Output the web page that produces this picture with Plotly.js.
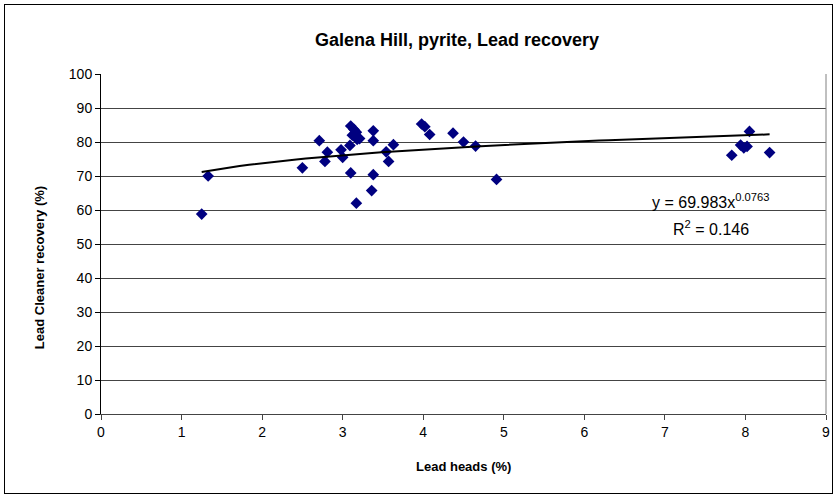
<!DOCTYPE html>
<html>
<head>
<meta charset="utf-8">
<script src="https://cdn.plot.ly/plotly-3.0.1.min.js"></script>
<style>
  html, body { margin: 0; padding: 0; background: #fff; }
  #wrap { position: relative; width: 839px; height: 500px; }
  #chart { width: 839px; height: 500px; }
  #frame { position: absolute; left: 4px; top: 4px; width: 829px; height: 490px; border: 1px solid #000; pointer-events: none; box-sizing: border-box; }
</style>
</head>
<body>
<div id="wrap">
  <div id="chart"></div>
  <div id="frame"></div>
</div>
<script>
// Lead heads (%)
const leadHeads = [1.25, 1.33, 2.50, 2.71, 2.81, 2.78, 2.98, 3.00, 3.09, 3.10, 3.14, 3.12, 3.17, 3.21, 3.18, 3.10,
                   3.38, 3.38, 3.38, 3.36, 3.17, 3.63, 3.54, 3.57, 3.98, 4.02, 4.08, 4.37, 4.50, 4.65, 4.91,
                   7.83, 7.94, 7.98, 8.02, 8.05, 8.30];
// Lead Cleaner recovery (%)
const recovery = [58.8, 70.0, 72.4, 80.4, 77.0, 74.3, 77.7, 75.5, 79.0, 84.7, 83.7, 82.0, 82.9, 81.0, 80.8, 70.9,
                  83.3, 80.4, 70.4, 65.7, 62.0, 79.2, 77.1, 74.3, 85.3, 84.5, 82.2, 82.6, 80.0, 78.8, 69.0,
                  76.1, 79.1, 78.3, 78.7, 83.1, 76.9];
// Power trendline as reported on the chart
const trendA = 69.983;
const trendB = 0.0763;
const trendR2 = 0.146;
const xTicks = [0, 1, 2, 3, 4, 5, 6, 7, 8, 9];
const yTicks = [0, 10, 20, 30, 40, 50, 60, 70, 80, 90, 100];

const xmin = Math.min(...leadHeads), xmax = Math.max(...leadHeads);
const trendX = [], trendY = [];
for (let i = 0; i <= 60; i++) {
  const x = xmin + (xmax - xmin) * i / 60;
  trendX.push(x);
  trendY.push(trendA * Math.pow(x, trendB));
}

const font = "Liberation Sans, Arial, sans-serif";

const traces = [
  {
    x: leadHeads, y: recovery, type: 'scatter', mode: 'markers',
    marker: { symbol: 'diamond', color: '#000080', size: 9, line: { width: 0 } },
    hoverinfo: 'x+y', showlegend: false
  },
  {
    x: trendX, y: trendY, type: 'scatter', mode: 'lines',
    line: { color: '#000000', width: 2 }, hoverinfo: 'skip', showlegend: false
  }
];

const layout = {
  width: 839, height: 500,
  margin: { l: 101, r: 13, t: 74, b: 86 },
  paper_bgcolor: '#ffffff', plot_bgcolor: '#ffffff',
  font: { family: font, size: 13, color: '#000' },
  showlegend: false,
  title: {
    text: '<b>Galena Hill, pyrite, Lead recovery</b>',
    font: { family: font, size: 18, color: '#000' },
    x: 457 / 839, xref: 'container', xanchor: 'center',
    y: 460 / 500, yref: 'container', yanchor: 'middle'
  },
  xaxis: {
    range: [0, 9], tickvals: xTicks, ticktext: xTicks.map(String),
    showgrid: false, zeroline: false,
    showline: true, linecolor: '#444', linewidth: 1, mirror: false,
    ticks: 'outside', ticklen: 5, tickcolor: '#444',
    tickfont: { family: font, size: 14, color: '#000' }
  },
  yaxis: {
    range: [0, 100], tickvals: yTicks, ticktext: yTicks.map(String),
    showgrid: true, gridcolor: '#444', gridwidth: 1, zeroline: false,
    showline: true, linecolor: '#000', linewidth: 1,
    ticks: 'outside', ticklen: 5, tickcolor: '#000',
    tickfont: { family: font, size: 14, color: '#000' }
  },
  shapes: [
    { type: 'line', xref: 'paper', yref: 'paper', x0: 1, x1: 1, y0: 0, y1: 1,
      line: { color: '#808080', width: 1 } }
  ],
  annotations: [
    { text: '<b>Lead heads (%)</b>', xref: 'paper', yref: 'paper', x: 0.5, y: -0.155,
      showarrow: false, xanchor: 'center', yanchor: 'middle',
      font: { family: font, size: 13, color: '#000' } },
    { text: '<b>Lead Cleaner recovery (%)</b>', xref: 'paper', yref: 'paper', x: -0.085, y: 0.43,
      showarrow: false, textangle: -90, xanchor: 'center', yanchor: 'middle',
      font: { family: font, size: 13, color: '#000' } },
    { text: 'y = ' + trendA.toFixed(3) + 'x<sup>' + trendB + '</sup>', xref: 'x', yref: 'y',
      x: 7.56, y: 62.6, showarrow: false, xanchor: 'center', yanchor: 'middle',
      font: { family: font, size: 16, color: '#000' } },
    { text: 'R<sup>2</sup> = ' + trendR2, xref: 'x', yref: 'y',
      x: 7.57, y: 54.6, showarrow: false, xanchor: 'center', yanchor: 'middle',
      font: { family: font, size: 16, color: '#000' } }
  ]
};

Plotly.newPlot('chart', traces, layout, { displayModeBar: false, staticPlot: true });
</script>
</body>
</html>
